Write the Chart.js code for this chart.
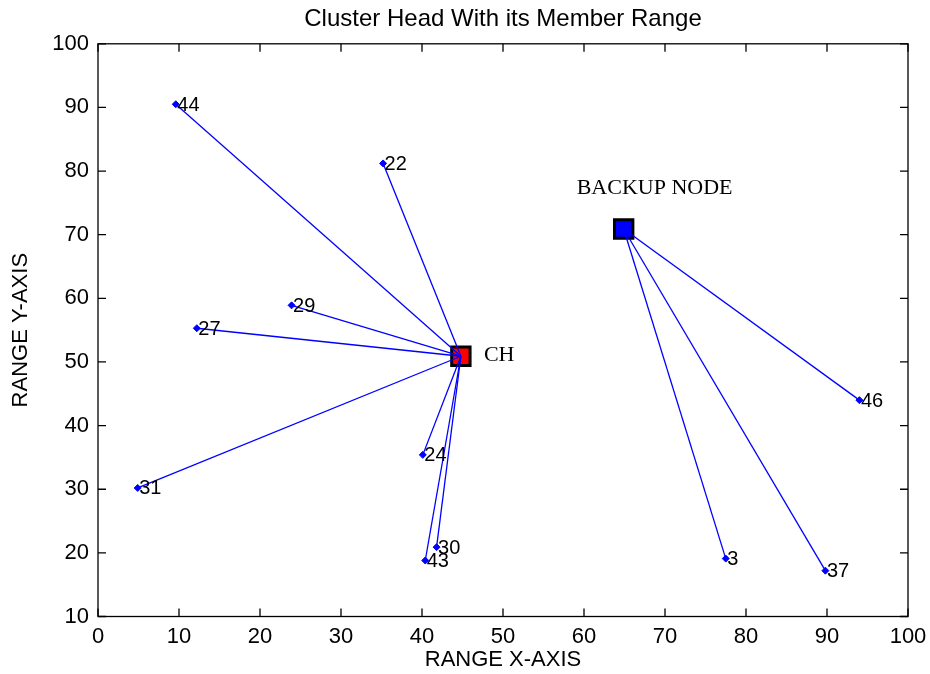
<!DOCTYPE html>
<html>
<head>
<meta charset="utf-8">
<script src="https://cdn.jsdelivr.net/npm/chart.js@4"></script>
<style>
  body { margin: 0; background: #fff; }
  #wrap { width: 930px; height: 674px; }
</style>
</head>
<body>
<div id="wrap"><canvas id="myChart"></canvas></div>
<script>
// nodes
var chNode = { x: 44.8, y: 50.9 };
var backupNode = { x: 64.9, y: 70.9 };

var chMemberIds = ['44', '22', '29', '27', '31', '24', '30', '43'];
var chMemberX = [9.6, 35.2, 23.9, 12.2, 4.9, 40.1, 41.8, 40.4];
var chMemberY = [90.5, 81.2, 58.9, 55.3, 30.2, 35.4, 20.9, 18.8];

var backupMemberIds = ['46', '3', '37'];
var backupMemberX = [94.0, 77.5, 89.8];
var backupMemberY = [44.0, 19.1, 17.2];

var xTicks = [0, 10, 20, 30, 40, 50, 60, 70, 80, 90, 100];
var yTicks = [10, 20, 30, 40, 50, 60, 70, 80, 90, 100];

var blue = '#0000ff';
var sans = "'Liberation Sans', Arial, sans-serif";
var serif = "'Liberation Serif', 'Times New Roman', serif";

// one line dataset per member link
var datasets = [];
chMemberX.forEach(function (x, i) {
  datasets.push({
    data: [{ x: chNode.x, y: chNode.y }, { x: x, y: chMemberY[i] }],
    showLine: true, borderColor: blue, borderWidth: 1.3, pointRadius: 0, order: 2
  });
});
backupMemberX.forEach(function (x, i) {
  datasets.push({
    data: [{ x: backupNode.x, y: backupNode.y }, { x: x, y: backupMemberY[i] }],
    showLine: true, borderColor: blue, borderWidth: 1.3, pointRadius: 0, order: 2
  });
});

// member markers
var memberPts = [];
chMemberX.forEach(function (x, i) { memberPts.push({ x: x, y: chMemberY[i], id: chMemberIds[i] }); });
backupMemberX.forEach(function (x, i) { memberPts.push({ x: x, y: backupMemberY[i], id: backupMemberIds[i] }); });
datasets.push({
  data: memberPts, pointStyle: 'rectRot', pointRadius: 3.5,
  backgroundColor: blue, borderColor: blue, borderWidth: 1, order: 1
});

// cluster head and backup node squares
datasets.push({
  data: [chNode], pointStyle: 'rect', pointRadius: 13,
  backgroundColor: '#ff0000', borderColor: '#000', borderWidth: 3, order: 3
});
datasets.push({
  data: [backupNode], pointStyle: 'rect', pointRadius: 13,
  backgroundColor: blue, borderColor: '#000', borderWidth: 3, order: 3
});

// matlab style box with inward ticks + node labels
var boxPlugin = {
  id: 'boxPlugin',
  afterDraw: function (chart) {
    var ctx = chart.ctx, a = chart.chartArea;
    var xs = chart.scales.x, ys = chart.scales.y;
    ctx.save();
    ctx.strokeStyle = '#000';
    ctx.lineWidth = 1.3;
    ctx.strokeRect(a.left, a.top, a.right - a.left, a.bottom - a.top);
    ctx.beginPath();
    xTicks.forEach(function (v) {
      var px = xs.getPixelForValue(v);
      ctx.moveTo(px, a.bottom); ctx.lineTo(px, a.bottom - 8);
      ctx.moveTo(px, a.top); ctx.lineTo(px, a.top + 8);
    });
    yTicks.forEach(function (v) {
      var py = ys.getPixelForValue(v);
      ctx.moveTo(a.left, py); ctx.lineTo(a.left + 8, py);
      ctx.moveTo(a.right, py); ctx.lineTo(a.right - 8, py);
    });
    ctx.stroke();

    ctx.fillStyle = '#000';
    ctx.textBaseline = 'middle';
    ctx.textAlign = 'left';
    ctx.font = '20px ' + sans;
    memberPts.forEach(function (p) {
      ctx.fillText(p.id, xs.getPixelForValue(p.x) + 1.5, ys.getPixelForValue(p.y) + 1);
    });
    ctx.font = '22px ' + serif;
    ctx.fillText('CH', xs.getPixelForValue(chNode.x) + 23, ys.getPixelForValue(chNode.y) - 1);
    ctx.fillText('BACKUP NODE', xs.getPixelForValue(backupNode.x) - 47, ys.getPixelForValue(backupNode.y) - 41);
    ctx.restore();
  }
};

var ctx = document.getElementById('myChart').getContext('2d');
var myChart = new Chart(ctx, {
  type: 'scatter',
  data: { datasets: datasets },
  plugins: [boxPlugin],
  options: {
    responsive: true,
    maintainAspectRatio: false,
    animation: false,
    layout: { padding: { top: 0, right: 22, bottom: 0, left: 0 } },
    plugins: {
      legend: { display: false },
      tooltip: { enabled: false },
      title: {
        display: true,
        fullSize: false,
        text: 'Cluster Head With its Member Range',
        color: '#000',
        font: { family: sans, size: 24, weight: 'normal', lineHeight: 1.2 },
        padding: { top: 5, bottom: 10 }
      }
    },
    scales: {
      x: {
        type: 'linear', min: 0, max: 100,
        afterFit: function (s) { s.height = 57.5; s.paddingLeft = 0; s.paddingRight = 0; },
        grid: { display: false, drawTicks: false },
        border: { display: false },
        ticks: { stepSize: 10, color: '#000', padding: 7, maxRotation: 0, font: { family: sans, size: 22 } },
        title: { display: true, text: 'RANGE X-AXIS', color: '#000', padding: { top: 0, bottom: 1 }, font: { family: sans, size: 22 } }
      },
      y: {
        type: 'linear', min: 10, max: 100,
        afterFit: function (s) { s.width = 98; },
        grid: { display: false, drawTicks: false },
        border: { display: false },
        ticks: { stepSize: 10, color: '#000', padding: 9, font: { family: sans, size: 22 } },
        title: { display: true, text: 'RANGE Y-AXIS', color: '#000', padding: { top: 8, bottom: 0 }, font: { family: sans, size: 22 } }
      }
    }
  }
});
</script>
</body>
</html>
